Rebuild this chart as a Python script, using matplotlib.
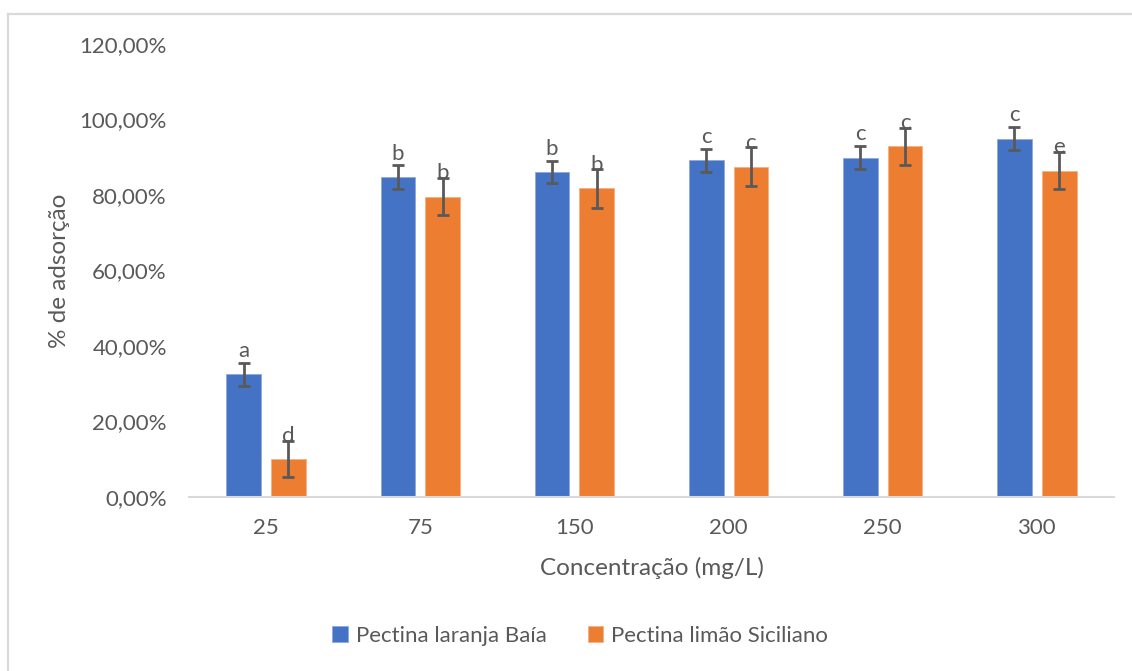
import matplotlib
matplotlib.use("Agg")
import matplotlib.pyplot as plt
from matplotlib.lines import Line2D
from matplotlib.ticker import FuncFormatter
import numpy as np

# Dados de adsorção (%) por concentração
concentracoes = ["25", "75", "150", "200", "250", "300"]
laranja_baia = [32.5, 84.8, 86.1, 89.2, 89.9, 94.9]
limao_siciliano = [10.1, 79.6, 81.8, 87.5, 92.9, 86.4]
erro_laranja = [3.1, 3.2, 2.9, 3.1, 3.1, 3.1]
erro_limao = [4.8, 4.9, 5.2, 5.2, 4.9, 4.9]
letras_laranja = ["a", "b", "b", "c", "c", "c"]
letras_limao = ["d", "b", "b", "c", "c", "e"]

AZUL = "#4472C4"
LARANJA = "#ED7D31"
CINZA_TEXTO = "#595959"

plt.rcParams["font.family"] = ["Lato", "DejaVu Sans"]

fig = plt.figure(figsize=(11.32, 6.71), dpi=100)
ax = fig.add_axes([0.167, 0.2593, 0.817, 0.6751])

x = np.arange(len(concentracoes))
largura = 0.225
desloc = 0.145

ax.bar(x - desloc, laranja_baia, largura, color=AZUL, edgecolor="#8FAADC",
       linewidth=0.6, label="Pectina laranja Baía", zorder=2)
ax.bar(x + desloc, limao_siciliano, largura, color=LARANJA, edgecolor="#F4B183",
       linewidth=0.6, label="Pectina limão Siciliano", zorder=2)

for pos, val, err in ((x - desloc, laranja_baia, erro_laranja),
                      (x + desloc, limao_siciliano, erro_limao)):
    ax.errorbar(pos, val, yerr=err, fmt="none", ecolor=CINZA_TEXTO,
                elinewidth=2, capsize=4.3, capthick=2, zorder=3)

# letras de significância acima das barras
for pos, val, letras in ((x - desloc, laranja_baia, letras_laranja),
                         (x + desloc, limao_siciliano, letras_limao)):
    for xi, vi, lt in zip(pos, val, letras):
        ax.annotate(lt, (xi, vi), xytext=(0, 12.5), textcoords="offset points",
                    ha="center", va="baseline", fontsize=16, color=CINZA_TEXTO,
                    zorder=4)

ax.set_xlim(-0.5, len(concentracoes) - 0.5)
ax.set_ylim(0, 120)
ax.set_yticks(np.arange(0, 121, 20))
ax.yaxis.set_major_formatter(FuncFormatter(lambda v, p: f"{v:.2f}%".replace(".", ",")))
ax.set_xticks(x)
ax.set_xticklabels(concentracoes)

for s in ("top", "right", "left"):
    ax.spines[s].set_visible(False)
ax.spines["bottom"].set_color("#D9D9D9")
ax.spines["bottom"].set_linewidth(1.5)
ax.tick_params(axis="both", length=0, labelsize=16, colors=CINZA_TEXTO)
ax.tick_params(axis="y", pad=16)
ax.tick_params(axis="x", pad=15)

ax.set_xlabel("Concentração (mg/L)", fontsize=17.5, color=CINZA_TEXTO)
ax.set_ylabel("% de adsorção", fontsize=17.5, color=CINZA_TEXTO)
ax.xaxis.label.set_va("center")
ax.yaxis.label.set_va("center")
ax.xaxis.set_label_coords(0.5, -0.157)
ax.yaxis.set_label_coords(-0.1405, 0.5)

ax.legend(loc="center", bbox_to_anchor=(580 / 1132, 1 - 636 / 671),
          bbox_transform=fig.transFigure, ncol=2, frameon=False, fontsize=16,
          labelcolor=CINZA_TEXTO, handlelength=0.7, handleheight=0.7,
          handletextpad=0.35, columnspacing=1.85)

# moldura cinza do gráfico (topo e lateral esquerda)
fig.add_artist(Line2D([8 / 1132, 1.0], [1 - 14 / 671, 1 - 14 / 671],
                      transform=fig.transFigure, color="#D9D9D9", lw=1.6))
fig.add_artist(Line2D([8 / 1132, 8 / 1132], [0.0, 1 - 14 / 671],
                      transform=fig.transFigure, color="#D9D9D9", lw=1.6))

fig.savefig("out.png", dpi=100)
